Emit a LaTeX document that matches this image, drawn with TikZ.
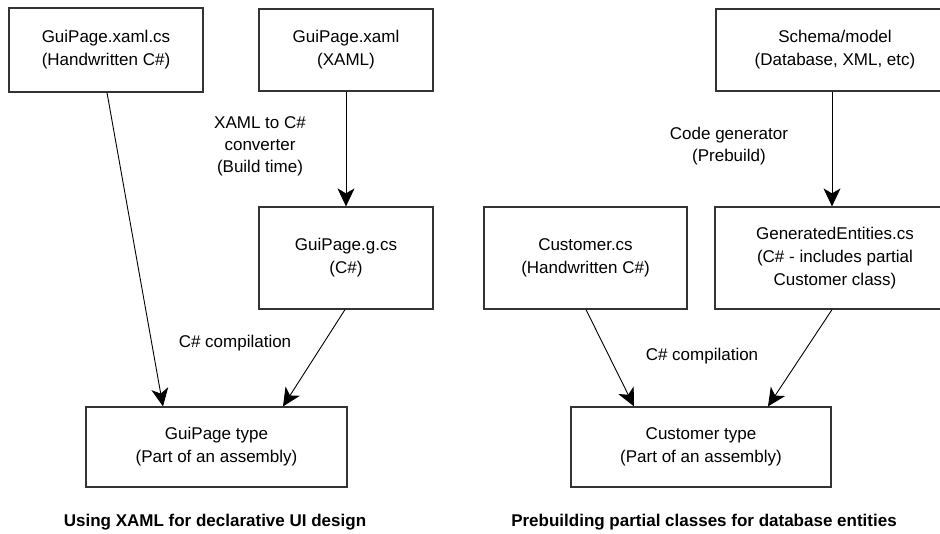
\documentclass[tikz,border=0pt]{standalone}
\usepackage{fontspec}
\setmainfont{Liberation Sans}
\usetikzlibrary{arrows.meta}
\begin{document}
\begin{tikzpicture}[x=1pt,y=-1pt,
  box/.style={draw=black!80,line width=1.2pt,rectangle,align=center,inner sep=0pt,
    font=\fontsize{17}{23}\selectfont},
  lbl/.style={align=center,inner sep=0pt,font=\fontsize{17}{22}\selectfont},
  ttl/.style={inner sep=0pt,font=\fontsize{17}{22}\selectfont\bfseries},
  arr/.style={draw=black,line width=0.9pt,-{Stealth[length=18pt,width=17pt,inset=5pt]}},
  ln/.style={draw=black,line width=0.9pt}]
\useasboundingbox (0,0) rectangle (940,533);
\clip (0,0) rectangle (940,533);
\fill[white] (0,0) rectangle (940,533);
% left diagram
\node[box,minimum width=194pt,minimum height=84pt] (xamlcs) at (106,50) {GuiPage.xaml.cs\\(Handwritten C\#)};
\node[box,minimum width=174pt,minimum height=82pt] (xaml) at (346,50) {GuiPage.xaml\\(XAML)};
\node[box,minimum width=174pt,minimum height=102pt] (gcs) at (346,258) {GuiPage.g.cs\\(C\#)};
\node[box,minimum width=261pt,minimum height=80pt] (guitype) at (216.5,447) {GuiPage type\\(Part of an assembly)};
\node[lbl] (conv) at (260,146) {XAML to C\#\\converter\\(Build time)};
\node[lbl] (comp1) at (235,343) {C\# compilation};
\node[ttl] (t1) at (215,522) {Using XAML for declarative UI design};
\draw[arr] (xaml.south) -- (gcs.north);
\draw[arr] ([xshift=1pt]xamlcs.south) -- ([xshift=-53.5pt]guitype.north);
\draw[arr] ([xshift=-1pt]gcs.south) -- ([xshift=66.5pt]guitype.north);
% right diagram
\node[box,minimum width=238pt,minimum height=82pt] (schema) at (835,50) {Schema/model\\(Database, XML, etc)};
\node[box,minimum width=203pt,minimum height=102pt] (custcs) at (585.5,258) {Customer.cs\\(Handwritten C\#)};
\node[box,minimum width=240pt,minimum height=102pt] (genent) at (835,258) {GeneratedEntities.cs\\(C\# - includes partial\\Customer class)};
\node[box,minimum width=260pt,minimum height=80pt] (custtype) at (701,447) {Customer type\\(Part of an assembly)};
\node[lbl] (codegen) at (729,146) {Code generator\\(Prebuild)};
\node[lbl] (comp2) at (702,356) {C\# compilation};
\node[ttl] (t2) at (704,522) {Prebuilding partial classes for database entities};
\draw[arr] ([xshift=-3pt]schema.south) -- ([xshift=-3pt]genent.north);
\draw[arr] ([xshift=0.5pt]custcs.south) -- ([xshift=-67pt]custtype.north);
\draw[arr] ([xshift=-3pt]genent.south) -- ([xshift=67pt]custtype.north);
\end{tikzpicture}
\end{document}
